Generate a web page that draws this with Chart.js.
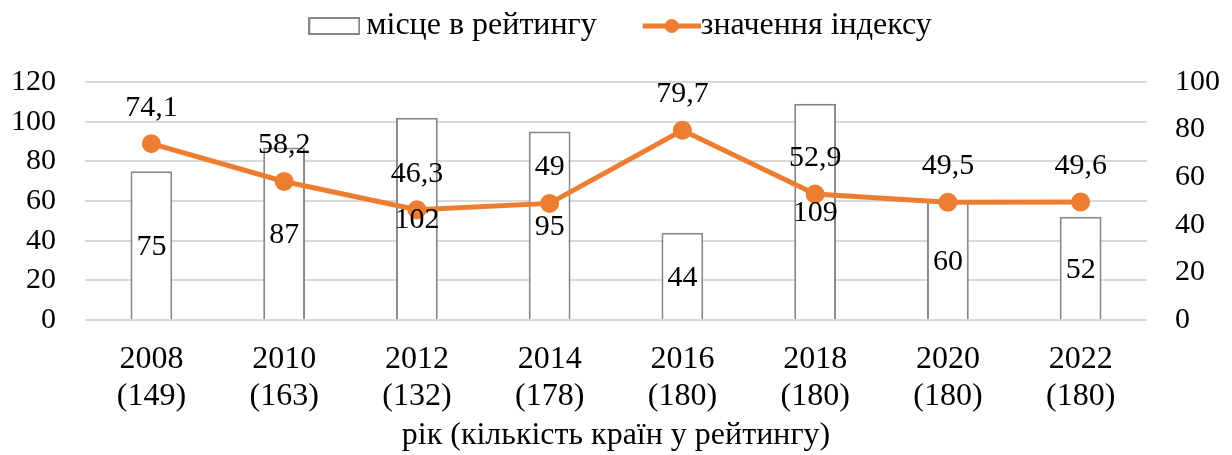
<!DOCTYPE html>
<html>
<head>
<meta charset="utf-8">
<script src="https://cdn.jsdelivr.net/npm/chart.js@4/dist/chart.umd.min.js"></script>
<style>
  body { margin: 0; background: #fff; }
  #wrap { width: 1232px; height: 455px; }
</style>
</head>
<body>
<div id="wrap"><canvas id="chart" width="1232" height="455"></canvas></div>
<script>
// дані з діаграми
const roky = ["2008", "2010", "2012", "2014", "2016", "2018", "2020", "2022"];
const kilkistKrain = ["(149)", "(163)", "(132)", "(178)", "(180)", "(180)", "(180)", "(180)"];
const mistse = [75, 87, 102, 95, 44, 109, 60, 52];
const indeks = [74.1, 58.2, 46.3, 49, 79.7, 52.9, 49.5, 49.6];
const leviTyky = [0, 20, 40, 60, 80, 100, 120];
const praviTyky = [0, 20, 40, 60, 80, 100];

const SHRYFT = "'Liberation Serif', 'Times New Roman', serif";
const ORANZH = "#ED7D31";

// значки для легенди (ширина 32 px у легенді, картинка центрується)
function znachokStovpchyk() {
    const c = document.createElement("canvas");
    c.width = 52; c.height = 20;
    const g = c.getContext("2d");
    g.fillStyle = "#fff";
    g.strokeStyle = "#888888";
    g.lineWidth = 2;
    g.fillRect(1, 2, 50, 16);
    g.strokeRect(1, 2, 50, 16);
    return c;
}
function znachokLinia() {
    const c = document.createElement("canvas");
    c.width = 64; c.height = 20;
    const g = c.getContext("2d");
    g.strokeStyle = ORANZH;
    g.lineWidth = 5;
    g.beginPath(); g.moveTo(6, 10); g.lineTo(64, 10); g.stroke();
    g.fillStyle = ORANZH;
    g.beginPath(); g.arc(35, 10, 7, 0, Math.PI * 2); g.fill();
    return c;
}

const pidpysy = {
    id: "pidpysy",
    afterDatasetsDraw(chart) {
        const ctx = chart.ctx;
        ctx.save();
        ctx.font = "30px " + SHRYFT;
        ctx.fillStyle = "#000";
        ctx.textAlign = "center";
        ctx.textBaseline = "middle";
        chart.getDatasetMeta(0).data.forEach((el, i) => {
            ctx.fillText(String(mistse[i]), el.x, (el.y + el.base) / 2 + 2);
        });
        chart.getDatasetMeta(1).data.forEach((el, i) => {
            ctx.fillText(String(indeks[i]).replace(".", ","), el.x, el.y - 36);
        });
        ctx.restore();
    },
};

// місце під легендою і невеликий зсув її праворуч
const vidstupLegendy = {
    id: "vidstupLegendy",
    beforeInit(chart) {
        const fit = chart.legend.fit;
        chart.legend.fit = function () {
            fit.call(this);
            this.height += 30;
        };
    },
    afterLayout(chart) {
        chart.legend.left += 9;
        chart.legend.right += 9;
    },
};

document.addEventListener("DOMContentLoaded", () => {
    const ctx = document.getElementById("chart");
    const mitky = roky.map((r, i) => [r, kilkistKrain[i]]);
    const znStovp = znachokStovpchyk();
    const znLin = znachokLinia();

    new Chart(ctx, {
        data: {
            labels: mitky,
            datasets: [
                {
                    type: "bar",
                    label: "місце в рейтингу",
                    data: mistse,
                    yAxisID: "yL",
                    backgroundColor: "#ffffff",
                    borderColor: "#888888",
                    borderWidth: 2,
                    barPercentage: 0.315,
                    categoryPercentage: 1,
                    order: 1,
                },
                {
                    type: "line",
                    label: "значення індексу",
                    data: indeks,
                    yAxisID: "yR",
                    borderColor: ORANZH,
                    backgroundColor: ORANZH,
                    borderWidth: 5,
                    pointRadius: 7,
                    pointHoverRadius: 7,
                    order: 0,
                },
            ],
        },
        options: {
            responsive: false,
            animation: false,
            layout: { padding: { left: 0, right: 0, top: 2, bottom: 0 } },
            plugins: {
                tooltip: { enabled: false },
                legend: {
                    position: "top",
                    labels: {
                        font: { family: SHRYFT, size: 32 },
                        color: "#000",
                        usePointStyle: true,
                        boxHeight: 20,
                        padding: 8,
                        generateLabels() {
                            return [
                                { text: "місце в рейтингу      ", pointStyle: znStovp, datasetIndex: 0, lineWidth: 0, fontColor: "#000" },
                                { text: "значення індексу", pointStyle: znLin, datasetIndex: 1, lineWidth: 0, fontColor: "#000" },
                            ];
                        },
                    },
                },
            },
            scales: {
                x: {
                    grid: { display: false },
                    border: { display: false },
                    afterFit(axis) { axis.height = 135; },
                    ticks: {
                        font: { family: SHRYFT, size: 32, lineHeight: 1.15 },
                        color: "#000",
                        padding: 13,
                        maxRotation: 0,
                    },
                    title: {
                        display: true,
                        text: "рік (кількість країн у рейтингу)",
                        font: { family: SHRYFT, size: 32, lineHeight: 1.2 },
                        color: "#000",
                        padding: { top: 0, bottom: 0 },
                    },
                },
                yL: {
                    position: "left",
                    min: 0,
                    max: 120,
                    afterBuildTicks(axis) { axis.ticks = leviTyky.map((v) => ({ value: v })); },
                    afterFit(axis) { axis.width = 85; },
                    grid: { color: "#d9d9d9", lineWidth: 2, drawTicks: false },
                    border: { display: false },
                    ticks: {
                        font: { family: SHRYFT, size: 30 },
                        color: "#000",
                        padding: 29,
                        autoSkip: false,
                    },
                },
                yR: {
                    position: "right",
                    min: 0,
                    max: 100,
                    afterBuildTicks(axis) { axis.ticks = praviTyky.map((v) => ({ value: v })); },
                    afterFit(axis) { axis.width = 85; },
                    grid: { display: false, drawTicks: false },
                    border: { display: false },
                    ticks: {
                        font: { family: SHRYFT, size: 30 },
                        color: "#000",
                        padding: 28,
                        autoSkip: false,
                    },
                },
            },
        },
        plugins: [pidpysy, vidstupLegendy],
    });
});
</script>
</body>
</html>
